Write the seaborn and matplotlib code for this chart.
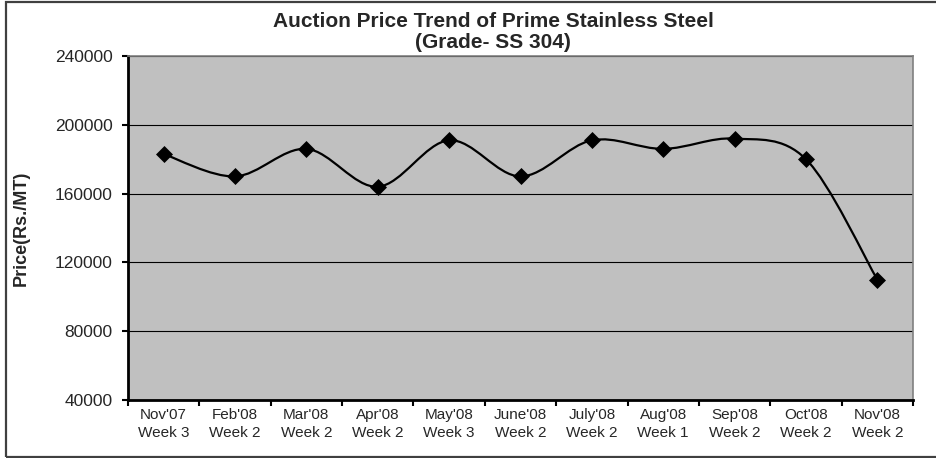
import numpy as np
import pandas as pd
import matplotlib
matplotlib.use("Agg")
import matplotlib.pyplot as plt
from matplotlib.path import Path
from matplotlib.patches import PathPatch, Rectangle
import seaborn as sns

# Auction data
periods = ["Nov'07\nWeek 3", "Feb'08\nWeek 2", "Mar'08\nWeek 2", "Apr'08\nWeek 2",
           "May'08\nWeek 3", "June'08\nWeek 2", "July'08\nWeek 2", "Aug'08\nWeek 1",
           "Sep'08\nWeek 2", "Oct'08\nWeek 2", "Nov'08\nWeek 2"]
prices = [183000, 170000, 186000, 164000, 191000, 170000, 191000, 186000, 192000, 180000, 110000]
y_ticks = [40000, 80000, 120000, 160000, 200000, 240000]

title_text = "Auction Price Trend of Prime Stainless Steel\n(Grade- SS 304)"
y_label = "Price(Rs./MT)"

sns.set_theme(style="white")
plt.rcParams["font.family"] = ["Liberation Sans", "DejaVu Sans"]

df = pd.DataFrame({"pos": np.arange(len(periods)), "price": prices})

fig = plt.figure(figsize=(9.37, 4.58), dpi=100)
W, H = 937, 458
ax = fig.add_axes([128 / W, (H - 400) / H, (913 - 128) / W, (400 - 56) / H])
ax.set_facecolor("#C0C0C0")

# outer chart frame
fig.patches.append(Rectangle((6 / W, 1 - 457 / H), 1.2, (457 - 2) / H,
                             transform=fig.transFigure, fill=False,
                             edgecolor="#404040", linewidth=1.6, zorder=0))

# smoothed connecting curve (cubic Bezier through each point)
x = df["pos"].to_numpy(dtype=float)
y = df["price"].to_numpy(dtype=float)
n = len(x)
verts = [(x[0], y[0])]
codes = [Path.MOVETO]
for i in range(n - 1):
    x0, y0 = (x[i - 1], y[i - 1]) if i > 0 else (x[i], y[i])
    x3, y3 = (x[i + 2], y[i + 2]) if i + 2 < n else (x[i + 1], y[i + 1])
    c1 = (x[i] + (x[i + 1] - x0) / 6, y[i] + (y[i + 1] - y0) / 6)
    c2 = (x[i + 1] - (x3 - x[i]) / 6, y[i + 1] - (y3 - y[i]) / 6)
    verts += [c1, c2, (x[i + 1], y[i + 1])]
    codes += [Path.CURVE4] * 3
ax.add_patch(PathPatch(Path(verts, codes), facecolor="none", edgecolor="black",
                       linewidth=1.6, zorder=3))

sns.scatterplot(data=df, x="pos", y="price", marker="D", s=75, color="black",
                edgecolor="black", linewidth=0, ax=ax, zorder=4, legend=False)

ax.set_xlim(-0.5, n - 0.5)
ax.set_ylim(y_ticks[0], y_ticks[-1])
ax.set_yticks(y_ticks)
ax.set_yticklabels([str(v) for v in y_ticks], fontsize=12.5)
ax.yaxis.grid(True, color="black", linewidth=0.8)
ax.set_axisbelow(True)

# category boundaries as major ticks, labels on the centres
ax.set_xticks(np.arange(n + 1) - 0.5)
ax.set_xticklabels([])
ax.set_xticks(np.arange(n), minor=True)
ax.set_xticklabels(periods, minor=True, fontsize=11, linespacing=1.35)
ax.tick_params(axis="x", which="major", direction="out", length=4, width=1.5,
               color="black", bottom=True)
ax.tick_params(axis="x", which="minor", length=0, pad=6)
ax.tick_params(axis="y", direction="out", length=4, width=1.5, color="black",
               left=True, pad=7)

for side in ("left", "bottom"):
    ax.spines[side].set_color("black")
    ax.spines[side].set_linewidth(2)
for side in ("top", "right"):
    ax.spines[side].set_color("#808080")
    ax.spines[side].set_linewidth(1.2)

ax.set_xlabel("")
ax.set_ylabel(y_label, fontsize=13, fontweight="bold")
ax.yaxis.set_label_coords(-(128 - 30) / (913 - 128), 0.5)

fig.text(493 / W, 1 - 12 / H, title_text, ha="center", va="top",
         fontsize=15, fontweight="bold", linespacing=1.1)

fig.savefig("out.png", dpi=100, facecolor="white")
